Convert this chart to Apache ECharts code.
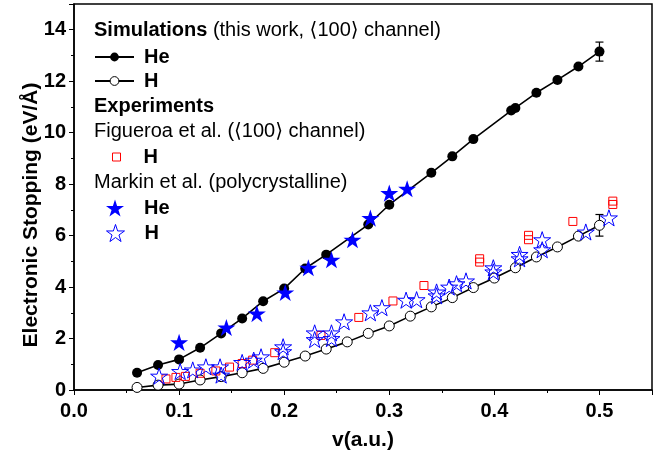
<!DOCTYPE html>
<html>
<head>
<meta charset="utf-8">
<script src="https://cdn.jsdelivr.net/npm/echarts@6/dist/echarts.min.js"></script>
<style>
  html, body { margin: 0; padding: 0; background: #fff; }
  #chart { width: 667px; height: 451px; }
</style>
</head>
<body>
<div id="chart"></div>
<script>
// simulations (this work)
const heSimV = [0.06, 0.08, 0.10, 0.12, 0.14, 0.16, 0.18, 0.20, 0.22, 0.24, 0.28, 0.30, 0.34, 0.36, 0.38, 0.416, 0.42, 0.44, 0.46, 0.48, 0.50];
const heSimS = [0.67, 0.97, 1.19, 1.64, 2.20, 2.78, 3.45, 3.94, 4.72, 5.26, 6.43, 7.20, 8.44, 9.08, 9.75, 10.86, 10.96, 11.55, 12.05, 12.57, 13.15];
const hSimV = [0.06, 0.08, 0.10, 0.12, 0.14, 0.16, 0.18, 0.20, 0.22, 0.24, 0.26, 0.28, 0.30, 0.32, 0.34, 0.36, 0.38, 0.40, 0.42, 0.44, 0.46, 0.48, 0.50];
const hSimS = [0.10, 0.19, 0.23, 0.39, 0.52, 0.67, 0.84, 1.08, 1.32, 1.59, 1.87, 2.20, 2.49, 2.87, 3.23, 3.59, 3.98, 4.35, 4.75, 5.17, 5.56, 5.98, 6.40];

// error bars at v = 0.5: [v, S, err]
const errBars = [[0.50, 13.15, 0.37], [0.50, 6.40, 0.42]];

// Figueroa et al. H
const figV = [0.0875, 0.097, 0.106, 0.120, 0.135, 0.148, 0.160, 0.170, 0.191, 0.235, 0.271, 0.3035, 0.333, 0.386, 0.386, 0.4325, 0.4325, 0.4747, 0.5127, 0.5127];
const figS = [0.43, 0.49, 0.53, 0.65, 0.74, 0.89, 1.03, 1.16, 1.45, 2.12, 2.82, 3.46, 4.06, 5.10, 4.97, 6.01, 5.84, 6.55, 7.34, 7.21];

// Markin et al.
const markinHeV = [0.100, 0.145, 0.174, 0.201, 0.223, 0.245, 0.265, 0.282, 0.300, 0.317];
const markinHeS = [1.85, 2.43, 2.97, 3.79, 4.75, 5.06, 5.84, 6.68, 7.65, 7.82];
const markinHV = [0.081, 0.101, 0.113, 0.1255, 0.139, 0.140, 0.160, 0.171, 0.178, 0.199, 0.199, 0.229, 0.229, 0.245, 0.245, 0.257, 0.282, 0.293, 0.316, 0.326, 0.345, 0.345, 0.357, 0.364, 0.373, 0.399, 0.399, 0.424, 0.424, 0.4455, 0.4455, 0.487, 0.509];
const markinHS = [0.54, 0.72, 0.78, 0.90, 0.90, 0.58, 1.07, 1.16, 1.29, 1.68, 1.49, 2.22, 1.96, 2.22, 2.00, 2.65, 3.00, 3.20, 3.49, 3.51, 3.81, 3.66, 4.00, 4.13, 4.24, 4.75, 4.59, 5.27, 5.10, 5.84, 5.45, 6.14, 6.69];

const FONT = "'Liberation Sans', Arial, 'DejaVu Sans', sans-serif";
const STAR = "path://M50,0 L61.2,34.5 L97.6,34.5 L68.2,55.9 L79.4,90.5 L50,69.1 L20.6,90.5 L31.8,55.9 L2.4,34.5 L38.8,34.5 Z";

function zip(xs, ys) {
  return xs.map((x, i) => [x, ys[i]]);
}

const chart = echarts.init(document.getElementById("chart"));

// one legend box per row so each can sit under its heading
function legendRow(name, left, center, w, h, pad) {
  return {
    data: [name],
    left: left,
    top: center - 11,
    padding: 0,
    itemWidth: w,
    itemHeight: h,
    selectedMode: false,
    itemStyle: { borderWidth: 1 },
    formatter: (n) => (n.indexOf("He") >= 0 ? "He" : "H"),
    textStyle: {
      fontFamily: FONT,
      fontSize: 20,
      fontWeight: "bold",
      color: "#000",
      lineHeight: 22,
      padding: [0, 0, 0, pad],
    },
  };
}

function heading(y, rich) {
  return {
    type: "text",
    left: 94,
    top: y - 11,
    style: {
      text: rich,
      fill: "#000",
      font: "20px " + FONT,
      rich: {
        b: { fontWeight: "bold", fontSize: 20, fontFamily: FONT },
        n: { fontSize: 20, fontFamily: FONT },
      },
    },
  };
}

chart.setOption({
  animation: false,
  grid: {
    left: 74,
    right: 15,
    top: 4,
    bottom: 61,
    outerBoundsMode: "none",
    show: true,
    borderColor: "#000",
    borderWidth: 1.5,
  },
  legend: [
    legendRow("He sim", 94, 57, 39, 11, 5),
    legendRow("H sim", 94, 81, 39, 11, 5),
    legendRow("H Figueroa", 112, 157, 8, 8, 18),
    legendRow("He Markin", 106, 208, 18, 18, 15),
    legendRow("H Markin", 106, 233, 18, 18, 15),
  ],
  graphic: [
    heading(31, "{b|Simulations} {n|(this work, \u27E8100\u27E9 channel)}"),
    heading(107, "{b|Experiments}"),
    heading(132, "{n|Figueroa et al. (\u27E8100\u27E9 channel)}"),
    heading(183, "{n|Markin et al. (polycrystalline)}"),
    {
      type: "text",
      x: 31,
      y: 215,
      rotation: Math.PI / 2,
      style: {
        text: "Electronic Stopping (eV/\u00C5)",
        font: "bold 21px " + FONT,
        fill: "#000",
        align: "center",
        verticalAlign: "middle",
      },
    },
  ],
  xAxis: {
    type: "value",
    min: 0,
    max: 0.55,
    interval: 0.1,
    name: "v(a.u.)",
    nameLocation: "middle",
    nameGap: 40,
    nameTextStyle: { fontFamily: FONT, fontSize: 21, fontWeight: "bold", color: "#000" },
    axisLine: { lineStyle: { color: "#000", width: 1.5 } },
    axisTick: { inside: false, length: 5, lineStyle: { color: "#000" } },
    minorTick: { show: true, splitNumber: 2, length: 3, lineStyle: { color: "#000" } },
    splitLine: { show: false },
    axisLabel: {
      showMaxLabel: false,
      margin: 11,
      fontFamily: FONT,
      fontSize: 20,
      fontWeight: "bold",
      color: "#000",
      formatter: (v) => v.toFixed(1),
    },
  },
  yAxis: {
    type: "value",
    min: 0,
    max: 15,
    interval: 2,
    axisLine: { show: true, lineStyle: { color: "#000", width: 1.5 } },
    axisTick: { show: true, inside: false, length: 5, lineStyle: { color: "#000" } },
    minorTick: { show: true, splitNumber: 2, length: 3, lineStyle: { color: "#000" } },
    splitLine: { show: false },
    axisLabel: {
      showMaxLabel: false,
      margin: 8,
      fontFamily: FONT,
      fontSize: 20,
      fontWeight: "bold",
      color: "#000",
    },
  },
  series: [
    {
      name: "err",
      type: "custom",
      z: 1,
      data: errBars,
      renderItem: function (params, api) {
        const v = api.value(0), s = api.value(1), e = api.value(2);
        const top = api.coord([v, s + e]);
        const bot = api.coord([v, s - e]);
        const w = 4;
        const st = { stroke: "#000", lineWidth: 1.2 };
        return {
          type: "group",
          children: [
            { type: "line", shape: { x1: top[0], y1: top[1], x2: bot[0], y2: bot[1] }, style: st },
            { type: "line", shape: { x1: top[0] - w, y1: top[1], x2: top[0] + w, y2: top[1] }, style: st },
            { type: "line", shape: { x1: bot[0] - w, y1: bot[1], x2: bot[0] + w, y2: bot[1] }, style: st },
          ],
        };
      },
    },
    {
      name: "He sim",
      type: "line",
      z: 2,
      data: zip(heSimV, heSimS),
      symbol: "circle",
      symbolSize: 10,
      lineStyle: { color: "#000", width: 1.6 },
      itemStyle: { color: "#000" },
    },
    {
      name: "H sim",
      type: "line",
      z: 2,
      data: zip(hSimV, hSimS),
      symbol: "circle",
      symbolSize: 10,
      showAllSymbol: true,
      lineStyle: { color: "#000", width: 1.6 },
      itemStyle: { color: "#fff", borderColor: "#000", borderWidth: 1 },
    },
    {
      name: "H Figueroa",
      type: "scatter",
      z: 3,
      data: zip(figV, figS),
      symbol: "rect",
      symbolSize: 8,
      itemStyle: { opacity: 1, color: "rgba(255,255,255,0)", borderColor: "#ff0000", borderWidth: 1 },
    },
    {
      name: "He Markin",
      type: "scatter",
      z: 3,
      data: zip(markinHeV, markinHeS),
      symbol: STAR,
      symbolKeepAspect: true,
      symbolSize: 18,
      itemStyle: { opacity: 1, color: "#0000ff" },
    },
    {
      name: "H Markin",
      type: "scatter",
      z: 3,
      data: zip(markinHV, markinHS),
      symbol: STAR,
      symbolKeepAspect: true,
      symbolSize: 17,
      itemStyle: { opacity: 1, color: "rgba(255,255,255,0)", borderColor: "#0000ff", borderWidth: 1 },
    },
  ],
});
</script>
</body>
</html>
